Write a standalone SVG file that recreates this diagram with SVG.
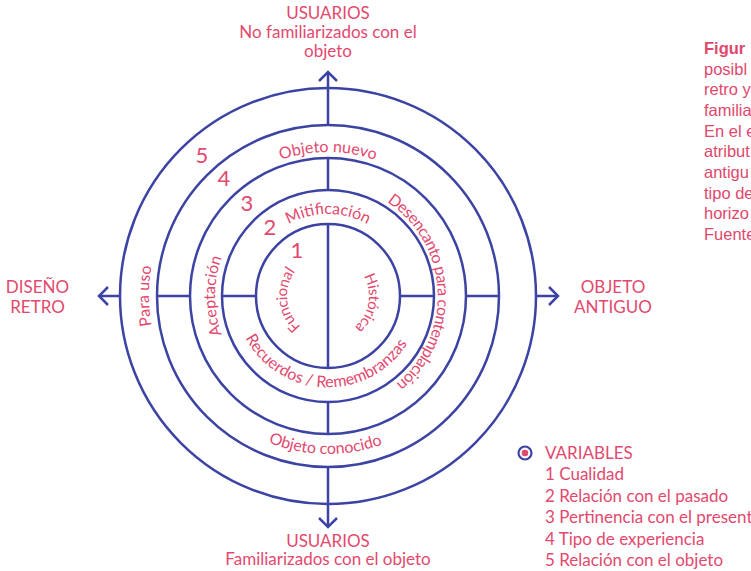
<svg xmlns="http://www.w3.org/2000/svg" xmlns:xlink="http://www.w3.org/1999/xlink" width="751" height="571" viewBox="0 0 751 571">
<style>
.ring{fill:none;stroke:#3c43a3;stroke-width:2.5}
.ln{fill:none;stroke:#3c43a3;stroke-width:2.5}
.t{font-family:Lato,"Open Sans","Liberation Sans",sans-serif;fill:#e2496e;font-size:16px}
.s{font-size:17px}
.c{text-anchor:middle}
.in{font-size:15px;letter-spacing:-0.3px}
.num{font-family:Lato,"Open Sans","Liberation Sans",sans-serif;fill:#e2496e;font-size:22px;text-anchor:middle}
.cap{font-family:"Liberation Sans",Arial,sans-serif;fill:#e0476c;font-size:16.5px}
</style>
<defs>
<marker id="arr" viewBox="-12 -12 14 24" markerWidth="14" markerHeight="24" refX="0" refY="0" orient="auto" markerUnits="userSpaceOnUse" overflow="visible">
<path d="M-9,-9 L0,0 L-9,9" fill="none" stroke="#3c43a3" stroke-width="2.5"/>
</marker>
<path id="pNuevo" d="M184,296 A144,144 0 0 1 472,296"/>
<path id="pMiti" d="M246,296 A82,82 0 0 1 410,296"/>
<path id="pDesen" d="M322.1,183.2 A113,113 0 0 1 333.9,408.8"/>
<path id="pHist" d="M335.1,255.6 A41,41 0 0 1 320.9,336.4"/>
<path id="pFunc" d="M332.3,336.8 A41,41 0 0 1 323.7,255.2"/>
<path id="pAcep" d="M328,409 A113,113 0 0 1 328,183"/>
<path id="pPara" d="M328,475 A179,179 0 0 1 328,117"/>
<path id="pRec" d="M234.06,290.7 A94,94 0 0 0 421.94,297.28"/>
<path id="pCon" d="M170.02,293.24 A158,158 0 0 0 485.98,298.76"/>
</defs>

<g id="rings">
<circle class="ring" cx="328" cy="296" r="72"/>
<circle class="ring" cx="328" cy="296" r="106"/>
<circle class="ring" cx="328" cy="296" r="138"/>
<circle class="ring" cx="328" cy="296" r="171"/>
<circle class="ring" cx="328" cy="296" r="208"/>
</g>

<g id="connectors">
<line class="ln" x1="328" y1="125" x2="328" y2="72" marker-end="url(#arr)"/>
<line class="ln" x1="328" y1="158" x2="328" y2="190"/>
<line class="ln" x1="328" y1="224" x2="328" y2="368"/>
<line class="ln" x1="328" y1="402" x2="328" y2="434"/>
<line class="ln" x1="328" y1="467" x2="328" y2="527" marker-end="url(#arr)"/>
<line class="ln" x1="120" y1="296" x2="99" y2="296" marker-end="url(#arr)"/>
<line class="ln" x1="157" y1="296" x2="190" y2="296"/>
<line class="ln" x1="222" y1="296" x2="256" y2="296"/>
<line class="ln" x1="400" y1="296" x2="434" y2="296"/>
<line class="ln" x1="466" y1="296" x2="499" y2="296"/>
<line class="ln" x1="536" y1="296" x2="558" y2="296" marker-end="url(#arr)"/>
</g>

<g id="ring-labels">
<text class="t c"><textPath href="#pNuevo" startOffset="50%">Objeto nuevo</textPath></text>
<text class="t c"><textPath href="#pMiti" startOffset="50%">Mitificación</textPath></text>
<text class="t c" letter-spacing="-0.5"><textPath href="#pDesen" startOffset="50%">Desencanto para contemplación</textPath></text>
<text class="t c in"><textPath href="#pHist" startOffset="50%">Histórica</textPath></text>
<text class="t c in"><textPath href="#pFunc" startOffset="50%">Funcional</textPath></text>
<text class="t c"><textPath href="#pAcep" startOffset="50%">Aceptación</textPath></text>
<text class="t c"><textPath href="#pPara" startOffset="50%">Para uso</textPath></text>
<text class="t c"><textPath href="#pRec" startOffset="50%">Recuerdos / Remembranzas</textPath></text>
<text class="t c"><textPath href="#pCon" startOffset="50%">Objeto conocido</textPath></text>
</g>

<g id="numbers">
<text class="num" x="202" y="163">5</text>
<text class="num" x="224" y="186">4</text>
<text class="num" x="247" y="211">3</text>
<text class="num" x="270" y="235">2</text>
<text class="num" x="297" y="258">1</text>
</g>

<g id="top-label">
<text class="t s c" x="328" y="19">USUARIOS</text>
<text class="t s c" x="328" y="38">No familiarizados con el</text>
<text class="t s c" x="328" y="57">objeto</text>
</g>
<g id="bottom-label">
<text class="t s c" x="328" y="547">USUARIOS</text>
<text class="t s c" x="328" y="565">Familiarizados con el objeto</text>
</g>
<g id="left-label">
<text class="t s c" x="37.5" y="293">DISEÑO</text>
<text class="t s c" x="37.5" y="313">RETRO</text>
</g>
<g id="right-label">
<text class="t s c" x="613" y="293">OBJETO</text>
<text class="t s c" x="613" y="313">ANTIGUO</text>
</g>

<g id="legend">
<circle cx="525" cy="453" r="6.5" fill="none" stroke="#3c43a3" stroke-width="2.2"/>
<circle cx="525" cy="453" r="3.3" fill="#e2496e"/>
<text class="t s" x="545" y="459">VARIABLES</text>
<text class="t s" x="545" y="480">1 Cualidad</text>
<text class="t s" x="545" y="502">2 Relación con el pasado</text>
<text class="t s" x="545" y="523">3 Pertinencia con el presente</text>
<text class="t s" x="545" y="545">4 Tipo de experiencia</text>
<text class="t s" x="545" y="566">5 Relación con el objeto</text>
</g>

<g id="caption">
<text class="cap" x="704" y="54" font-weight="bold">Figur</text>
<text class="cap" x="704" y="75">posibl</text>
<text class="cap" x="704" y="95">retro y</text>
<text class="cap" x="704" y="116">familia</text>
<text class="cap" x="704" y="137">En el e</text>
<text class="cap" x="704" y="157">atribut</text>
<text class="cap" x="704" y="178">antigu</text>
<text class="cap" x="704" y="199">tipo de</text>
<text class="cap" x="704" y="219">horizo</text>
<text class="cap" x="704" y="240">Fuente</text>
</g>
</svg>
